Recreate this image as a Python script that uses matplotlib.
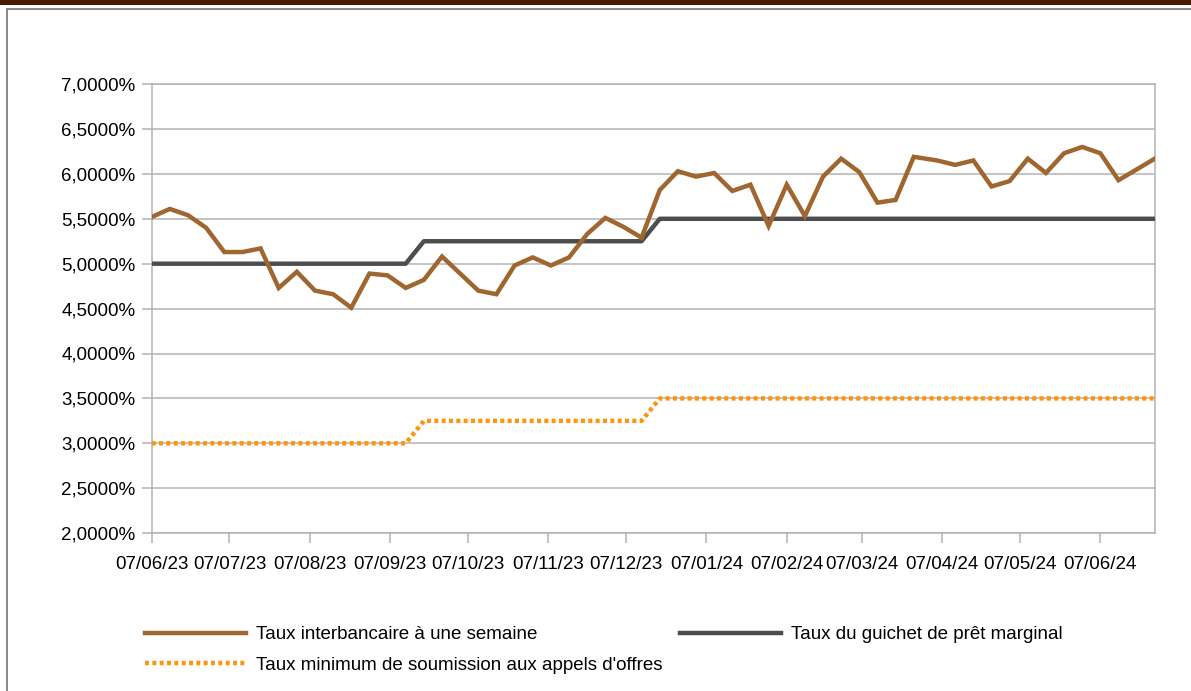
import numpy as np
import pandas as pd
import matplotlib
matplotlib.use("Agg")
import matplotlib.pyplot as plt
import matplotlib.dates as mdates
from matplotlib.patches import Rectangle

plt.rcParams['font.family'] = ['Liberation Sans', 'DejaVu Sans']

dates = list(pd.date_range("2023-06-07", periods=43, freq="7D")) + \
    list(pd.date_range("2024-04-05", periods=13, freq="7D"))

interbank = [
    5.52, 5.61, 5.54, 5.40, 5.13, 5.13, 5.17, 4.73, 4.91, 4.70,
    4.66, 4.51, 4.89, 4.87, 4.73, 4.82, 5.08, 4.89, 4.70, 4.66,
    4.98, 5.07, 4.98, 5.07, 5.33, 5.51, 5.41, 5.29, 5.82, 6.03,
    5.97, 6.01, 5.81, 5.88, 5.42, 5.88, 5.53, 5.97, 6.17, 6.02,
    5.68, 5.71, 6.19, 6.15, 6.10, 6.15, 5.86, 5.92, 6.17, 6.01,
    6.23, 6.30, 6.23, 5.93, 6.05, 6.17,
]
marginal = [5.00] * 15 + [5.25] * 13 + [5.50] * 28
minimum_bid = [3.00] * 15 + [3.25] * 13 + [3.50] * 28

labels = [
    "Taux interbancaire à une semaine",
    "Taux minimum de soumission aux appels d'offres",
    "Taux du guichet de prêt marginal",
]

brown = '#9f662f'
dark = '#4d4d4d'
orange = '#ff950e'
grid_c = '#b3b3b3'
fs = 13.5

fig = plt.figure(figsize=(11.91, 6.91), dpi=100)
W, H = 1191, 691

# top title band and outer frame
fig.patches.append(Rectangle((0, 1 - 4.5 / H), 1, 4.5 / H, transform=fig.transFigure,
                             facecolor='#4a1a02', edgecolor='none'))
fig.patches.append(Rectangle((7 / W, -0.05), (W + 20) / W, 1.05 - 9 / H, transform=fig.transFigure,
                             facecolor='none', edgecolor='#7f7f7f', lw=1.3))

ax = fig.add_axes([151.7 / W, 1 - 533.1 / H, (1154.8 - 151.7) / W, (533.1 - 84.1) / H])

l1, = ax.plot(dates, interbank, color=brown, lw=3.2, solid_joinstyle='miter', zorder=4)
l3, = ax.plot(dates, marginal, color=dark, lw=3.2, zorder=3)
l2, = ax.plot(dates, minimum_bid, color=orange, lw=3.2, linestyle=(0, (0.9, 0.75)),
              dash_capstyle='butt', zorder=3)

ax.set_ylim(2, 7)
ax.set_yticks(np.arange(2, 7.01, 0.5))
ax.yaxis.set_major_formatter(plt.FuncFormatter(lambda v, p: f"{v:.4f}%".replace('.', ',')))
ax.set_xlim(pd.Timestamp("2023-06-07"), pd.Timestamp("2024-06-28"))
ax.xaxis.set_major_locator(mdates.MonthLocator(bymonthday=7))
ax.xaxis.set_major_formatter(mdates.DateFormatter('%d/%m/%y'))

ax.grid(axis='y', color=grid_c, lw=1.1)
ax.set_axisbelow(True)
for s in ax.spines.values():
    s.set_color(grid_c)
    s.set_linewidth(1.1)
ax.tick_params(axis='both', color=grid_c, length=7.5, width=1.1, labelsize=fs, colors='black')
ax.tick_params(axis='x', pad=9)
ax.tick_params(axis='y', pad=4)
for t in ax.get_xticklabels() + ax.get_yticklabels():
    t.set_color('black')

fig.legend([l1, l2, l3], labels, loc='upper left', bbox_to_anchor=(145 / W, 1 - 626 / H),
           ncol=2, frameon=False, fontsize=fs, borderpad=0, borderaxespad=0,
           handlelength=5.4, handletextpad=0.5, columnspacing=0.95, labelspacing=0.72)

fig.savefig("out.png", dpi=100, facecolor='white')
